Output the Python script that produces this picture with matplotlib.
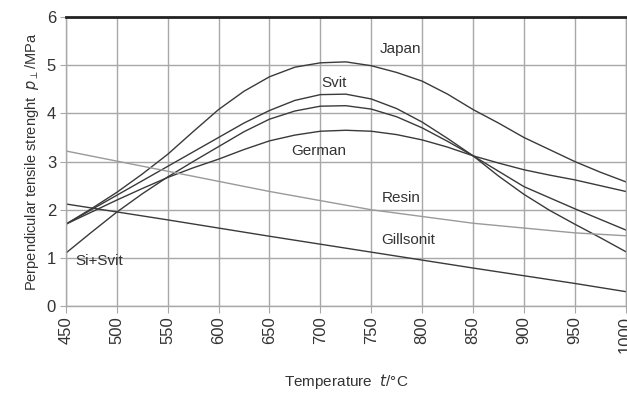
import numpy as np
from matplotlib import pyplot as plt

plt.rcParams['font.family'] = ['Liberation Sans', 'DejaVu Sans']

# temperature (deg C) and strength (MPa)
temps = [450, 475, 500, 525, 550, 575, 600, 625, 650, 675, 700, 725,
         750, 775, 800, 825, 850, 875, 900, 925, 950, 975, 1000]
japan = [1.70, 2.02, 2.36, 2.74, 3.15, 3.62, 4.08, 4.46, 4.76, 4.96, 5.05, 5.07,
         4.99, 4.85, 4.67, 4.40, 4.08, 3.80, 3.50, 3.25, 3.00, 2.78, 2.58]
svit = [1.70, 2.00, 2.30, 2.60, 2.90, 3.20, 3.50, 3.80, 4.06, 4.27, 4.39, 4.40,
        4.30, 4.10, 3.82, 3.48, 3.12, 2.70, 2.32, 1.99, 1.70, 1.42, 1.13]
siSvit = [1.10, 1.53, 1.95, 2.33, 2.68, 3.00, 3.31, 3.62, 3.88, 4.05, 4.15, 4.16,
          4.09, 3.93, 3.70, 3.42, 3.12, 2.80, 2.48, 2.25, 2.02, 1.80, 1.58]
german = [1.70, 1.95, 2.20, 2.44, 2.67, 2.87, 3.05, 3.25, 3.43, 3.55, 3.63, 3.65,
          3.63, 3.56, 3.45, 3.30, 3.12, 2.97, 2.83, 2.72, 2.62, 2.50, 2.38]

tempsLin = [450, 550, 650, 750, 850, 950, 1000]
resin = [3.22, 2.80, 2.38, 2.00, 1.72, 1.52, 1.46]
gillsonit = [2.12, 1.79, 1.45, 1.12, 0.79, 0.47, 0.30]

labels = ["Japan", "Svit", "German", "Resin", "Gillsonit", "Si+Svit"]
labelX = [758, 701, 671, 760, 760, 459]
labelY = [5.33, 4.63, 3.21, 2.25, 1.37, 0.94]

GRID = '#a8a8a8'
LINE = '#3a3a3a'

fig = plt.figure(figsize=(6.27, 3.97), dpi=100)
ax = fig.add_axes([0.105, 0.229, 0.893, 0.728])

for series in [japan, svit, siSvit, german]:
    ax.plot(temps, series, color=LINE, lw=1.0)
ax.plot(tempsLin, gillsonit, color=LINE, lw=1.0)
ax.plot(tempsLin, resin, color='#9a9a9a', lw=1.0)

for text, lx, ly in zip(labels, labelX, labelY):
    ax.text(lx, ly, text, fontsize=11, color='#333333', va='center', ha='left')

ax.set_xlim(450, 1000)
ax.set_ylim(0, 6)
ax.set_xticks(np.arange(450, 1001, 50))
ax.set_yticks(np.arange(0, 7, 1))
ax.grid(True, color=GRID, lw=1.0)
ax.tick_params(axis='x', rotation=90, labelsize=12, color=GRID, length=5, pad=2)
ax.tick_params(axis='y', labelsize=12, color=GRID, length=4, pad=3)
for lab in ax.get_xticklabels() + ax.get_yticklabels():
    lab.set_color('#333333')

for side in ['left', 'right', 'bottom']:
    ax.spines[side].set_color(GRID)
    ax.spines[side].set_linewidth(1.0)
ax.spines['top'].set_color('#222222')
ax.spines['top'].set_linewidth(2.0)

ax.set_xlabel(r"Temperature  $t$/°C", fontsize=11, color='#333333', labelpad=14)
ax.set_ylabel(r"Perpendicular tensile strenght  $p_{\perp}$/MPa", fontsize=10.5,
              color='#333333', labelpad=4)

fig.savefig('out.png', dpi=100)
